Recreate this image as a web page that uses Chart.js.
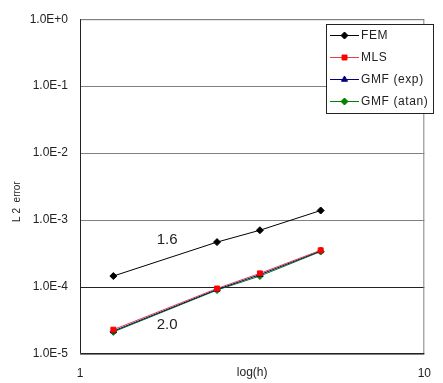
<!DOCTYPE html>
<html><head><meta charset="utf-8">
<script src="https://cdn.jsdelivr.net/npm/chart.js@4/dist/chart.umd.min.js"></script>
<style>html,body{margin:0;padding:0;background:#fff}#wrap{width:443px;height:383px}</style>
</head><body><div id="wrap"><canvas id="c" width="443" height="383"></canvas></div>
<script>
const hValues = [1.25, 2.5, 3.33, 5];
const femErr = [1.46e-4, 4.69e-4, 7.05e-4, 1.39e-3];
const mlsErr = [2.31e-5, 9.5e-5, 1.60e-4, 3.54e-4];
const gmfExpErr = [2.2e-5, 9.2e-5, 1.53e-4, 3.46e-4];
const gmfAtanErr = [2.14e-5, 9.0e-5, 1.46e-4, 3.39e-4];
const seriesNames = ['FEM', 'MLS', 'GMF (exp)', 'GMF (atan)'];
const yTickValues = [1e-5, 1e-4, 1e-3, 1e-2, 1e-1, 1];
const xTickValues = [1, 10];
const slopeLabels = [{text: '1.6', x: 1.79, y: 5.0e-4}, {text: '2.0', x: 1.79, y: 2.76e-5}];

const FONT = '"Liberation Sans", Arial, sans-serif';
const mk = (arr) => hValues.map((h, i) => ({x: h, y: arr[i]}));
const styles = [
  {line: '#000000', fill: '#000000', pt: 'rectRot', r: 3.5},
  {line: '#e04040', fill: '#ff0000', pt: 'rect', r: 3.5},
  {line: '#000080', fill: '#000080', pt: 'triangle', r: 3.5},
  {line: '#008000', fill: '#008000', pt: 'rectRot', r: 3.5}
];
const allData = [femErr, mlsErr, gmfExpErr, gmfAtanErr];

const datasets = allData.map((d, i) => ({
  label: seriesNames[i], data: mk(d),
  borderColor: styles[i].line, backgroundColor: styles[i].fill,
  pointBackgroundColor: styles[i].fill, pointBorderColor: styles[i].fill,
  pointStyle: styles[i].pt, pointRadius: styles[i].r, borderWidth: 1, pointBorderWidth: 1
}));

function fmtE(v) {
  const e = Math.round(Math.log10(v));
  return '1.0E' + (e >= 0 ? '+' : '-') + Math.abs(e);
}

const deco = {
  id: 'deco',
  beforeDatasetsDraw(chart) {
    const {ctx, chartArea: a} = chart;
    ctx.save();
    ctx.strokeStyle = '#808080'; ctx.lineWidth = 1;
    ctx.beginPath();
    ctx.moveTo(a.left, a.top + 0.5); ctx.lineTo(a.right - 0.5, a.top + 0.5); ctx.lineTo(a.right - 0.5, a.bottom);
    ctx.stroke();
    ctx.strokeStyle = '#222'; 
    ctx.beginPath();
    ctx.moveTo(a.left + 0.5, a.top); ctx.lineTo(a.left + 0.5, a.bottom - 0.5); ctx.lineTo(a.right, a.bottom - 0.5);
    ctx.stroke();
    ctx.restore();
  },
  afterDraw(chart) {
    const {ctx, chartArea: a, scales} = chart;
    ctx.save();
    ctx.fillStyle = '#222'; ctx.font = '15px ' + FONT; ctx.textAlign = 'center'; ctx.textBaseline = 'middle';
    slopeLabels.forEach(s => ctx.fillText(s.text, scales.x.getPixelForValue(s.x), scales.y.getPixelForValue(s.y)));
    ctx.font = '12px ' + FONT;
    ctx.fillText('log(h)', (a.left + a.right) / 2, 373);
    ctx.save();
    ctx.translate(17, (a.top + a.bottom) / 2 + 15);
    ctx.rotate(-Math.PI / 2);
    ctx.font = '10px ' + FONT;
    ctx.fillText('L 2  error', 0, 0);
    ctx.restore();
    const lx = 326, ly = 24, lw = 107, lh = 89;
    ctx.fillStyle = '#fff'; ctx.fillRect(lx, ly, lw, lh);
    ctx.strokeStyle = '#222'; ctx.lineWidth = 1; ctx.strokeRect(lx + 0.5, ly + 0.5, lw, lh);
    ctx.font = '12px ' + FONT; ctx.textAlign = 'left'; ctx.textBaseline = 'middle';
    try { ctx.letterSpacing = '0.6px'; } catch (e) {}
    seriesNames.forEach((n, i) => {
      const y = ly + 11 + i * 22;
      ctx.strokeStyle = styles[i].line; ctx.lineWidth = 1;
      ctx.beginPath(); ctx.moveTo(lx + 4, y + 0.5); ctx.lineTo(lx + 33, y + 0.5); ctx.stroke();
      ctx.fillStyle = styles[i].fill; ctx.strokeStyle = styles[i].fill;
      Chart.helpers.drawPoint(ctx, {pointStyle: styles[i].pt, radius: styles[i].r, borderWidth: 1}, lx + 18.5, y + 0.5);
      ctx.fillStyle = '#222';
      ctx.fillText(n, lx + 35, y + 1);
    });
    ctx.restore();
  }
};

new Chart(document.getElementById('c'), {
  type: 'line',
  data: {datasets},
  options: {
    responsive: false, animation: false, devicePixelRatio: 1,
    layout: {padding: {top: 15, right: 6, left: 0, bottom: 0}},
    plugins: {legend: {display: false}, tooltip: {enabled: false}},
    scales: {
      x: {
        type: 'logarithmic', min: 1, max: 10,
        afterBuildTicks: s => { s.ticks = xTickValues.map(v => ({value: v})); },
        afterFit: s => { s.height = 29; },
        grid: {display: false, drawTicks: false},
        border: {display: false},
        ticks: {color: '#222', font: {family: FONT, size: 12}, padding: 12, maxRotation: 0, autoSkip: false,
          callback: v => String(v)}
      },
      y: {
        type: 'logarithmic', min: 1e-5, max: 1,
        afterBuildTicks: s => { s.ticks = yTickValues.map(v => ({value: v})); },
        afterFit: s => { s.width = 80; },
        grid: {drawTicks: false, color: ctx => (ctx.tick && Math.abs(ctx.tick.value - 1e-4) < 1e-9) ? '#222' : '#808080', lineWidth: 1},
        border: {display: false},
        ticks: {color: '#222', font: {family: FONT, size: 12}, padding: 12, autoSkip: false,
          callback: v => fmtE(v)}
      }
    }
  },
  plugins: [deco]
});
</script></body></html>
